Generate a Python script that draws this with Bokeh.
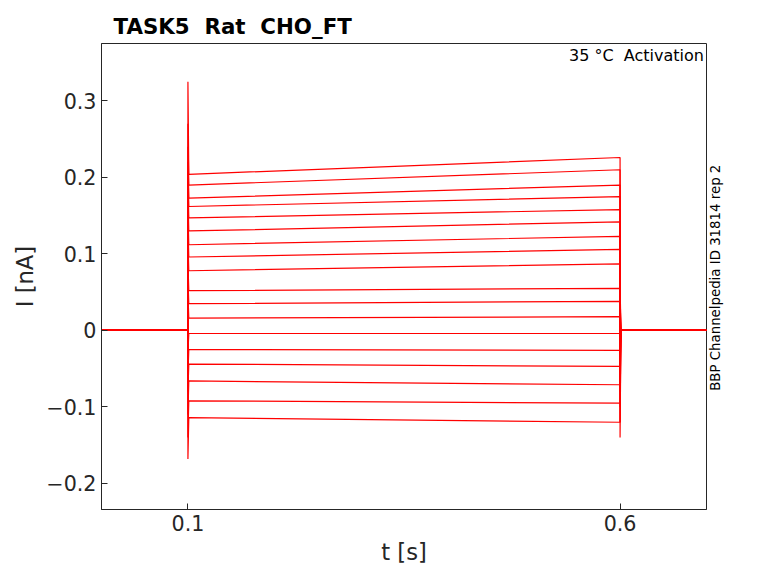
from bokeh.plotting import figure
from bokeh.models import Range1d, Label, FixedTicker
from bokeh.layouts import row
from bokeh.core.properties import value
from bokeh.embed import file_html
from bokeh.resources import INLINE

# step levels (nA) at start and end of the 0.1-0.6 s pulse
level_start = [0.204, 0.190, 0.173, 0.162, 0.147, 0.130, 0.112, 0.096, 0.078,
               0.052, 0.035, 0.016, -0.004, -0.025, -0.044, -0.066, -0.092, -0.114]
level_end = [0.226, 0.210, 0.190, 0.175, 0.158, 0.142, 0.123, 0.106, 0.087,
             0.055, 0.038, 0.018, -0.004, -0.026, -0.047, -0.071, -0.095, -0.120]
onset_peak = [0.325, 0.27, 0.24, 0.22, 0.20, 0.18, 0.16, 0.14, 0.12,
              0.09, 0.07, 0.05, -0.03, -0.06, -0.08, -0.11, -0.14, -0.168]
offset_peak = [-0.14, -0.12, -0.10, -0.08, -0.06, -0.05, -0.04, -0.03, -0.02,
               -0.01, -0.01, 0.0, 0.01, 0.02, 0.03, 0.04, 0.05, 0.06]
t_on, t_off, t_end = 0.1, 0.6, 0.7

p = figure(width=707, height=567, output_backend="svg", toolbar_location=None,
           x_range=Range1d(0.0, 0.7), y_range=Range1d(-0.234, 0.375),
           min_border_left=101, min_border_top=43, min_border_right=1, min_border_bottom=55)
p.title.text = "TASK5\u00a0\u00a0Rat\u00a0\u00a0CHO_FT"
p.title.text_font = "DejaVu Sans"
p.title.text_font_size = "16pt"
p.title.text_color = "black"
p.title.offset = 12
p.title.text_font_style = "bold"
for i in range(len(level_start)):
    xs = [0.0, t_on, t_on, t_on + 0.001, t_off, t_off, t_off + 0.001, t_end]
    ys = [0.0, 0.0, onset_peak[i], level_start[i], level_end[i], offset_peak[i], 0.0, 0.0]
    p.line(xs, ys, color="red", line_width=1.2)

p.xgrid.visible = False
p.ygrid.visible = False
p.outline_line_color = "#262626"
for ax in (p.xaxis, p.yaxis):
    ax.major_label_text_font = "DejaVu Sans"
    ax.major_label_text_font_size = "15.5pt"
    ax.major_label_text_color = "#262626"
    ax.axis_label_text_font = "DejaVu Sans"
    ax.axis_label_text_font_size = "17pt"
    ax.axis_label_text_color = "#262626"
    ax.axis_label_text_font_style = "normal"
    ax.major_tick_in = 6
    ax.major_tick_out = 0
    ax.minor_tick_line_color = None
    ax.axis_line_color = "#262626"
    ax.major_tick_line_color = "#262626"
p.xaxis.ticker = FixedTicker(ticks=[0.1, 0.6])
p.yaxis.ticker = FixedTicker(ticks=[-0.2, -0.1, 0, 0.1, 0.2, 0.3])
p.xaxis.axis_label = "t [s]"
p.yaxis.axis_label = "I [nA]"

p.add_layout(Label(x=0.697, y=0.372, text="35 °C\u00a0\u00a0Activation", text_align="right",
                   text_baseline="top", text_font="DejaVu Sans", text_font_size="12pt",
                   text_color="black"))

p2 = figure(width=55, height=567, output_backend="svg", toolbar_location=None,
            x_range=Range1d(0, 55), y_range=Range1d(0, 567),
            min_border=0, x_axis_type=None, y_axis_type=None)
p2.outline_line_color = None
p2.xgrid.visible = False
p2.ygrid.visible = False
p2.text(x=[8], y=[282], text=["BBP Channelpedia ID 31814 rep 2"], angle=1.5708,
        text_align="center", text_baseline="middle", text_font=value("DejaVu Sans"),
        text_font_size="10pt", text_color="black")

open("out.html", "w").write(file_html(row(p, p2, spacing=0), INLINE))
